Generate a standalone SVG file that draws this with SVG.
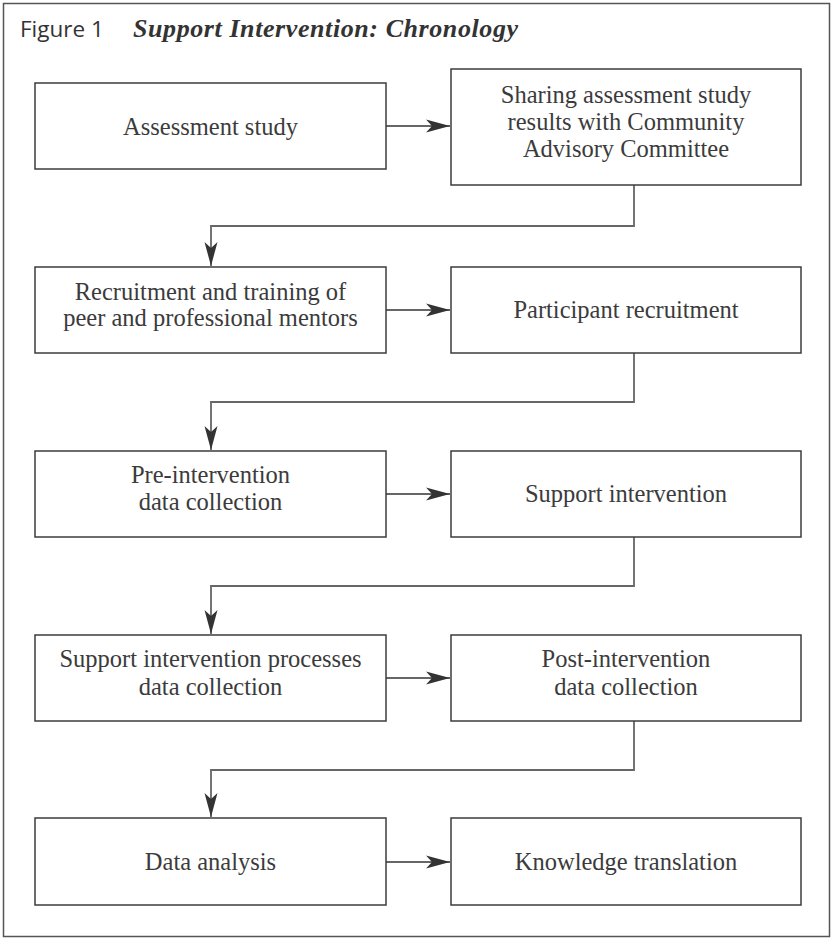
<svg xmlns="http://www.w3.org/2000/svg" width="834" height="939" viewBox="0 0 834 939">
<style>
.frame{fill:#fff;stroke:#555;stroke-width:1.5}
.box{fill:#fff;stroke:#3c3c3c;stroke-width:1.5}
.conn{fill:none;stroke:#666;stroke-width:1.8}
.t{font-family:"Liberation Serif","Times New Roman",serif;font-size:24.5px;fill:#3b3b3b;text-anchor:middle}
.fig{font-family:"Open Sans","Liberation Sans",Arial,sans-serif;font-size:22.5px;fill:#333}
.title{font-family:"Liberation Serif","Times New Roman",serif;font-size:26px;font-weight:bold;font-style:italic;fill:#333}
</style>
<defs>
<marker id="ah" markerWidth="24" markerHeight="14" refX="24" refY="7" orient="auto" markerUnits="userSpaceOnUse">
<path d="M0,0.5 L24,7 L0,13.5 L6,7 Z" fill="#333"/>
</marker>
</defs>
<rect class="frame" x="3.5" y="3.5" width="826" height="933"/>
<g id="title">
<text class="fig" x="20" y="37">Figure 1</text>
<text class="title" x="133" y="37" textLength="385" lengthAdjust="spacing">Support Intervention: Chronology</text>
</g>
<g id="connectors">
<line class="conn" x1="386" y1="126" x2="450" y2="126" marker-end="url(#ah)"/>
<polyline class="conn" points="634,185 634,226 211,226 211,266" marker-end="url(#ah)"/>
<line class="conn" x1="386" y1="310" x2="450" y2="310" marker-end="url(#ah)"/>
<polyline class="conn" points="634,353 634,402 211,402 211,450" marker-end="url(#ah)"/>
<line class="conn" x1="386" y1="494" x2="450" y2="494" marker-end="url(#ah)"/>
<polyline class="conn" points="634,537 634,586 211,586 211,634" marker-end="url(#ah)"/>
<line class="conn" x1="386" y1="678" x2="450" y2="678" marker-end="url(#ah)"/>
<polyline class="conn" points="634,721 634,770 211,770 211,817" marker-end="url(#ah)"/>
<line class="conn" x1="386" y1="862" x2="450" y2="862" marker-end="url(#ah)"/>
</g>
<g id="n1">
<rect class="box" x="35" y="83" width="351" height="86"/>
<text class="t" x="210.5" y="135">Assessment study</text>
</g>
<g id="n2">
<rect class="box" x="451" y="69" width="350" height="116"/>
<text class="t" x="626" y="103">Sharing assessment study</text>
<text class="t" x="626" y="130">results with Community</text>
<text class="t" x="626" y="157">Advisory Committee</text>
</g>
<g id="n3">
<rect class="box" x="35" y="267" width="351" height="86"/>
<text class="t" x="210.5" y="300">Recruitment and training of</text>
<text class="t" x="210.5" y="326">peer and professional mentors</text>
</g>
<g id="n4">
<rect class="box" x="451" y="267" width="350" height="86"/>
<text class="t" x="626" y="318">Participant recruitment</text>
</g>
<g id="n5">
<rect class="box" x="35" y="451" width="351" height="86"/>
<text class="t" x="210.5" y="483">Pre-intervention</text>
<text class="t" x="210.5" y="510">data collection</text>
</g>
<g id="n6">
<rect class="box" x="451" y="451" width="350" height="86"/>
<text class="t" x="626" y="502">Support intervention</text>
</g>
<g id="n7">
<rect class="box" x="35" y="635" width="351" height="86"/>
<text class="t" x="210.5" y="667">Support intervention processes</text>
<text class="t" x="210.5" y="695">data collection</text>
</g>
<g id="n8">
<rect class="box" x="451" y="635" width="350" height="86"/>
<text class="t" x="626" y="667">Post-intervention</text>
<text class="t" x="626" y="695">data collection</text>
</g>
<g id="n9">
<rect class="box" x="35" y="818" width="351" height="87"/>
<text class="t" x="210.5" y="870">Data analysis</text>
</g>
<g id="n10">
<rect class="box" x="451" y="818" width="350" height="87"/>
<text class="t" x="626" y="870">Knowledge translation</text>
</g>
</svg>
